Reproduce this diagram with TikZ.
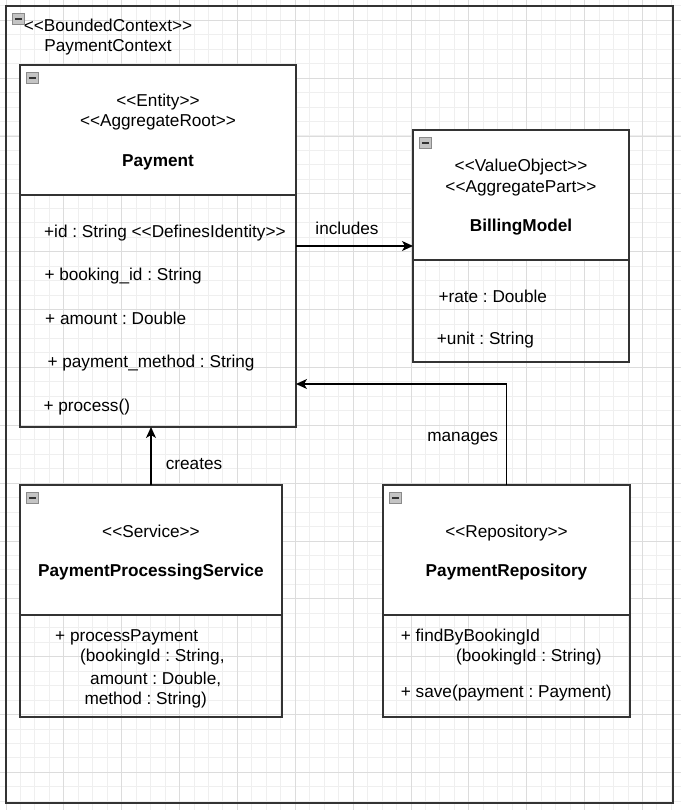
\documentclass[tikz,border=0pt]{standalone}
\usepackage{fontspec}
\setmainfont{Liberation Sans}[Ligatures=TeXOff]
\frenchspacing
\usetikzlibrary{positioning,arrows.meta}

\definecolor{gridminor}{HTML}{EFEFEF}
\definecolor{gridmajor}{HTML}{DCDCDC}
\definecolor{edgegray}{HTML}{333333}
\definecolor{iconfill}{HTML}{C4C4C4}
\definecolor{iconline}{HTML}{8A8A8A}

\tikzset{
  ctxframe/.style={draw=edgegray, line width=2pt, inner sep=0pt, outer sep=0pt},
  classhd/.style={draw=edgegray, line width=1.3pt, fill=white, inner sep=0pt, outer sep=0pt},
  classbody/.style={draw=edgegray, line width=1.3pt, inner sep=0pt, outer sep=0pt},
  txt/.style={inner sep=0pt, text height=12.4pt, text depth=0pt, font=\fontsize{17.2}{20}\selectfont},
  member/.style={txt, anchor=west},
  title/.style={txt, font=\fontsize{17.2}{20}\selectfont\bfseries},
  arr/.style={line width=1.3pt, -{Stealth[length=11pt,width=10pt,inset=3pt]}},
  icon/.style={draw=iconline, fill=iconfill, line width=0.8pt}
}

\begin{document}
\begin{tikzpicture}[x=1pt,y=-1pt]
  \useasboundingbox (0,0) rectangle (681,810);
  % background grid
  \foreach \i in {0,...,46} \draw[gridminor] (5.7+14.465*\i,0) -- ++(0,810);
  \foreach \j in {0,...,55} \draw[gridminor] (0,5.5+14.465*\j) -- ++(681,0);
  \foreach \i in {0,...,11} \draw[gridmajor] (5.7+57.86*\i,0) -- ++(0,810);
  \foreach \j in {0,...,13} \draw[gridmajor] (0,20+57.86*\j) -- ++(681,0);

  % bounded context
  \node[ctxframe, minimum width=667pt, minimum height=797pt] (ctx) at (339.5,404.5) {};
  \node[txt] (ctxst) at (108,25) {<<BoundedContext>>};
  \node[txt] (ctxname) at (108,45.5) {PaymentContext};

  % Payment
  \node[classhd, minimum width=276pt, minimum height=130pt] (paymenthd) at (158,130) {};
  \node[classbody, minimum width=276pt, minimum height=232pt, below=0pt of paymenthd] (payment) {};
  \node[txt] (payst1) at (158,100.7) {<<Entity>>};
  \node[txt] (payst2) at (158,120) {<<AggregateRoot>>};
  \node[title] (payname) at (158,160) {Payment};
  \node[member] (payid) at (44,231.7) {+id : String <<DefinesIdentity>>};
  \node[member] (paybook) at (44.3,274.3) {+ booking\_id : String};
  \node[member] (payamt) at (45,318.3) {+ amount : Double};
  \node[member] (paymeth) at (47.3,361.7) {+ payment\_method : String};
  \node[member] (payproc) at (43.3,405) {+ process()};

  % BillingModel
  \node[classhd, minimum width=216pt, minimum height=130pt] (billinghd) at (521,195) {};
  \node[classbody, minimum width=216pt, minimum height=102pt, below=0pt of billinghd] (billing) {};
  \node[txt] (billst1) at (521,165) {<<ValueObject>>};
  \node[txt] (billst2) at (521,186) {<<AggregatePart>>};
  \node[title] (billname) at (521,225) {BillingModel};
  \node[member] (billrate) at (438.3,296.7) {+rate : Double};
  \node[member] (billunit) at (436.7,338.3) {+unit : String};

  % PaymentProcessingService
  \node[classhd, minimum width=262pt, minimum height=130pt] (servicehd) at (151,550) {};
  \node[classbody, minimum width=262pt, minimum height=102pt, below=0pt of servicehd] (service) {};
  \node[txt] (servst) at (151,531) {<<Service>>};
  \node[title] (servname) at (151,570) {PaymentProcessingService};
  \node[member] (servm1) at (55,635) {+ processPayment};
  \node[member] (servm2) at (80,655.7) {(bookingId : String,};
  \node[member] (servm3) at (90,678.3) {amount : Double,};
  \node[member] (servm4) at (84.3,698.3) {method : String)};

  % PaymentRepository
  \node[classhd, minimum width=247pt, minimum height=130pt] (repohd) at (506.5,550) {};
  \node[classbody, minimum width=247pt, minimum height=102pt, below=0pt of repohd] (repo) {};
  \node[txt] (repost) at (506.5,531) {<<Repository>>};
  \node[title] (reponame) at (506.5,570) {PaymentRepository};
  \node[member] (repom1) at (400.7,635) {+ findByBookingId};
  \node[member] (repom2) at (456,655.7) {(bookingId : String)};
  \node[member] (repom3) at (400.7,691.7) {+ save(payment : Payment)};

  % collapse icons
  \foreach \b in {ctx,paymenthd,billinghd,servicehd,repohd}{
    \draw[icon, shift={(\b.north west)}] (6.5,7) rectangle (18,18.5);
    \draw[edgegray, line width=1.6pt, shift={(\b.north west)}] (9,12.75) -- (15.5,12.75);
  }

  % relations
  \coordinate (incl) at ([yshift=65pt]payment.east);
  \draw[arr] (incl) -- (incl -| billinghd.west);
  \node[txt] (incllbl) at (347,228.3) {includes};
  \draw[arr] (servicehd.north) -- (servicehd.north |- payment.south);
  \node[txt] (crlbl) at (194,463.3) {creates};
  \draw[arr] (repohd.north) |- ([yshift=-73pt]payment.east);
  \node[txt] (mglbl) at (462.7,435) {manages};
\end{tikzpicture}
\end{document}
